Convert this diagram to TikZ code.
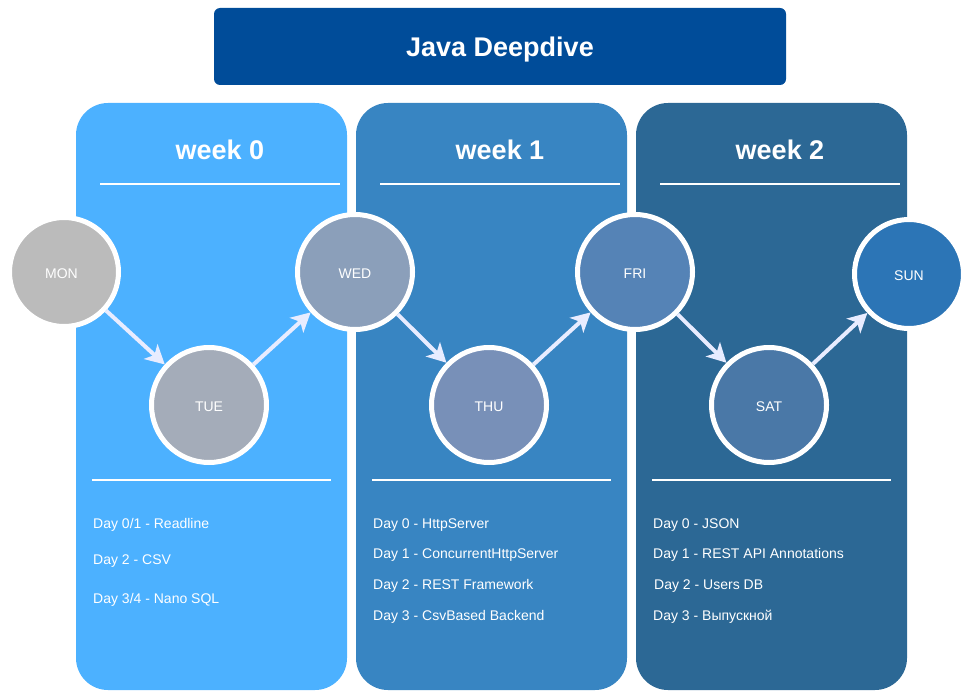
\documentclass[tikz,border=0pt]{standalone}
\usepackage{fontspec}
\setmainfont{Liberation Sans}
\usetikzlibrary{arrows.meta}
\definecolor{titleblue}{RGB}{0,76,153}
\definecolor{wkzero}{RGB}{76,177,255}
\definecolor{wkone}{RGB}{56,133,194}
\definecolor{wktwo}{RGB}{44,104,149}
\definecolor{cmon}{RGB}{187,187,187}
\definecolor{ctue}{RGB}{164,172,185}
\definecolor{cwed}{RGB}{139,159,186}
\definecolor{cthu}{RGB}{120,144,184}
\definecolor{cfri}{RGB}{85,131,182}
\definecolor{csat}{RGB}{74,120,167}
\definecolor{csun}{RGB}{44,117,182}
\definecolor{arrowcol}{RGB}{232,236,255}
\begin{document}
\begin{tikzpicture}[x=1pt,y=-1pt,
  panel/.style={rectangle, rounded corners=32pt, minimum width=271pt, minimum height=587pt, inner sep=0pt, draw=none},
  weeklabel/.style={text=white, font=\fontsize{27}{32}\selectfont\bfseries},
  sepline/.style={draw=white, line width=1.5pt},
  day/.style={circle, draw=white, line width=5pt, minimum size=115pt, inner sep=0pt, text height=13pt, text depth=0pt, text=white, font=\fontsize{14}{16}\selectfont},
  smallday/.style={day, minimum size=109pt},
  item/.style={anchor=base west, text=white, font=\fontsize{14}{16}\selectfont, inner sep=0pt},
  arr/.style={draw=arrowcol, line width=4pt, -{Stealth[length=19pt,width=20pt,inset=5pt]}}
]
\useasboundingbox (0,0) rectangle (971,698);

\node[rectangle, rounded corners=6pt, fill=titleblue, minimum width=572pt, minimum height=77pt, text depth=0pt, text=white, font=\fontsize{27}{31}\selectfont\bfseries] (title) at (500,46.5) {Java Deepdive};

\node[panel, fill=wkzero] (p0) at (211.5,396.5) {};
\node[panel, fill=wkone] (p1) at (491.5,396.5) {};
\node[panel, fill=wktwo] (p2) at (771.5,396.5) {};

\node[weeklabel] (w0) at (220,150) {week 0};
\node[weeklabel] (w1) at (500,150) {week 1};
\node[weeklabel] (w2) at (780,150) {week 2};

\draw[sepline] (100,184) -- (340,184);
\draw[sepline] (380,184) -- (620,184);
\draw[sepline] (660,184) -- (900,184);
\draw[sepline] (92,480) -- (331,480);
\draw[sepline] (372,480) -- (611,480);
\draw[sepline] (652,480) -- (891,480);

\node[smallday, fill=cmon] (mon) at (64,272) {\hspace{-5pt}MON};
\node[day, fill=ctue] (tue) at (209,405) {TUE};
\node[day, fill=cwed] (wed) at (355,272) {WED};
\node[day, fill=cthu] (thu) at (489,405) {THU};
\node[day, fill=cfri] (fri) at (635,272) {FRI};
\node[day, fill=csat] (sat) at (769,405) {SAT};
\node[smallday, fill=csun] (sun) at (909,274) {SUN};

\draw[arr] (mon) -- (tue);
\draw[arr] (tue) -- (wed);
\draw[arr] (wed) -- (thu);
\draw[arr] (thu) -- (fri);
\draw[arr] (fri) -- (sat);
\draw[arr] (sat) -- (sun);

\node[item] (a1) at (93,528) {Day 0/1 - Readline};
\node[item] (a2) at (93,564) {Day 2 - CSV};
\node[item] (a3) at (93,603) {Day 3/4 - Nano SQL};

\node[item] (b1) at (373,528) {Day 0 - HttpServer};
\node[item] (b2) at (373,558) {Day 1 - ConcurrentHttpServer};
\node[item] (b3) at (373,589) {Day 2 - REST Framework};
\node[item] (b4) at (373,620) {Day 3 - CsvBased Backend};

\node[item] (c1) at (653,528) {Day 0 - JSON};
\node[item] (c2) at (653,558) {Day 1 - REST API Annotations};
\node[item] (c3) at (654,589) {Day 2 - Users DB};
\node[item] (c4) at (653,620) {Day 3 - Выпускной};
\end{tikzpicture}
\end{document}
